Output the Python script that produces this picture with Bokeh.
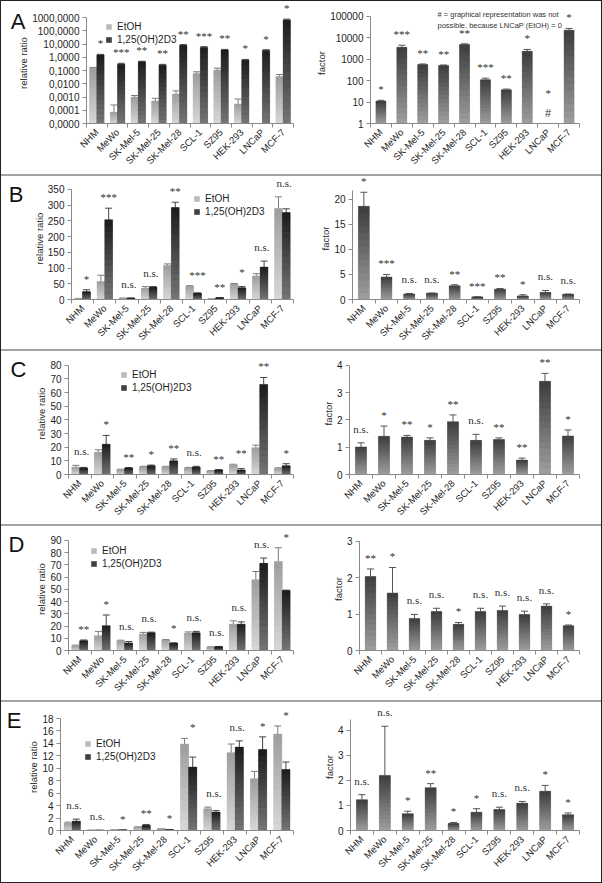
import math
from bokeh.plotting import figure
from bokeh.models import (ColumnDataSource, FixedTicker, Whisker, TeeHead, Legend,
                          LegendItem, Label, LabelSet, Range1d, LinearAxis)
from bokeh.layouts import row, column
from bokeh.embed import file_html
from bokeh.resources import INLINE

NAN = float("nan")
FONT = "Liberation Sans"
AX = "#8a8a8a"
TXT = "#1e1e1e"
# (top colour, bottom colour, mid colour) of the gradient fills
G_ETOH = ((158, 158, 158), (216, 216, 216), "#bababa")
G_D3 = ((28, 28, 28), (118, 118, 118), "#404040")
G_FAC = ((60, 60, 60), (160, 160, 160), "#707070")

# ---------------- data ----------------
cells = ["NHM", "MeWo", "SK-Mel-5", "SK-Mel-25", "SK-Mel-28", "SCL-1",
         "SZ95", "HEK-293", "LNCaP", "MCF-7"]
series_names = ["EtOH", "1,25(OH)2D3"]

# Panel A
a_etoh = [0.15, 7e-5, 0.001, 0.0005, 0.0017, 0.06, 0.11, 0.0003, NAN, 0.035]
a_etoh_err = [0.02, 1.8e-4, 0.0003, 0.0003, 0.0012, 0.02, 0.04, 0.0004, NAN, 0.015]
a_d3 = [1.5, 0.3, 0.45, 0.25, 8.0, 5.5, 3.5, 0.6, 3.3, 650]
a_d3_err = [0.15, 0.05, 0.05, 0.04, 1.0, 0.8, 0.4, 0.08, 0.4, 100]
a_sig = ["*", "***", "**", "**", "**", "***", "**", "*", "*", "*"]
a_fac = [11, 3500, 550, 500, 4800, 110, 37, 2300, NAN, 22000]
a_fac_err = [1, 900, 40, 30, 300, 18, 3, 500, NAN, 4500]
a_fac_sig = ["*", "***", "**", "**", "**", "***", "**", "*", "*", "*"]
a_left_ticks = [1e-05, 0.0001, 0.001, 0.01, 0.1, 1.0, 10.0, 100.0, 1000.0]
a_left_labels = ["0,0000", "0,0001", "0,0010", "0,0100", "0,1000", "1,0000",
                 "10,0000", "100,0000", "1000,0000"]
a_right_ticks = [1.0, 10.0, 100.0, 1000.0, 10000.0, 100000.0]
a_right_labels = ["1", "10", "100", "1000", "10000", "100000"]
a_note = ["# = graphical representation was not", "possible, because LNCaP (EtOH) = 0"]

# Panel B
b_etoh = [3, 57, 4, 36, 108, 42, 2, 49, 75, 289]
b_etoh_err = [0.5, 20, 0.5, 5, 5, 2, 0.3, 2, 7, 37]
b_d3 = [25, 253, 4, 39, 292, 20, 5, 37, 103, 276]
b_d3_err = [6, 37, 0.5, 2, 17, 1, 0.5, 4, 19, 12]
b_sig = ["*", "***", "n.s.", "n.s.", "**", "***", "**", "*", "n.s.", "n.s."]
b_fac = [18.6, 4.5, 1.1, 1.25, 2.75, 0.5, 2.05, 0.7, 1.4, 1.05]
b_fac_err = [2.8, 0.5, 0.1, 0.05, 0.2, 0.05, 0.15, 0.25, 0.4, 0.05]
b_fac_sig = ["*", "***", "n.s.", "n.s.", "**", "***", "**", "*", "n.s.", "n.s."]
b_left_ticks = [0, 50, 100, 150, 200, 250, 300, 350]
b_right_ticks = [0, 5, 10, 15, 20]

# Panel C
c_etoh = [5.5, 16.2, 3.6, 5.5, 5.5, 4.8, 2.6, 7.2, 19.6, 4.5]
c_etoh_err = [1.2, 1.9, 0.3, 0.5, 0.5, 0.4, 0.2, 0.3, 1.9, 0.4]
c_d3 = [4.8, 22.2, 4.8, 6.4, 10.0, 5.5, 3.3, 3.3, 65.9, 6.4]
c_d3_err = [0.4, 6.4, 0.3, 0.5, 1.4, 0.5, 0.3, 1.0, 5.1, 1.5]
c_sig = ["n.s.", "*", "**", "*", "**", "n.s.", "**", "**", "**", "*"]
c_fac = [1.01, 1.4, 1.37, 1.25, 1.93, 1.25, 1.28, 0.53, 3.41, 1.41]
c_fac_err = [0.15, 0.37, 0.06, 0.09, 0.25, 0.22, 0.06, 0.07, 0.29, 0.22]
c_fac_sig = ["n.s.", "*", "**", "*", "**", "n.s.", "**", "**", "**", "*"]
c_left_ticks = [0, 10, 20, 30, 40, 50, 60, 70, 80]
c_right_ticks = [0, 1, 2, 3, 4]

# Panel D
d_etoh = [4.0, 12.1, 8.0, 13.4, 8.6, 14.2, 2.7, 21.5, 57.8, 72.6]
d_etoh_err = [0.4, 3.5, 0.4, 1.4, 0.4, 1.0, 0.3, 2.7, 6.7, 11.3]
d_d3 = [8.0, 20.2, 6.2, 14.5, 5.9, 14.5, 3.0, 21.5, 71.2, 48.9]
d_d3_err = [0.6, 8.8, 1.1, 0.5, 0.4, 1.1, 0.3, 1.9, 4.3, 0.4]
d_sig = ["**", "*", "n.s.", "n.s.", "*", "n.s.", "n.s.", "n.s.", "n.s.", "*"]
d_fac = [2.03, 1.58, 0.88, 1.07, 0.72, 1.07, 1.1, 0.99, 1.22, 0.68]
d_fac_err = [0.21, 0.7, 0.11, 0.09, 0.05, 0.09, 0.12, 0.09, 0.06, 0.02]
d_fac_sig = ["**", "*", "n.s.", "n.s.", "*", "n.s.", "n.s.", "n.s.", "n.s.", "*"]
d_left_ticks = [0, 10, 20, 30, 40, 50, 60, 70, 80, 90]
d_right_ticks = [0, 1, 2, 3]

# Panel E
e_etoh = [1.18, 0.02, 0.1, 0.54, 0.27, 13.9, 3.5, 12.5, 8.33, 15.5]
e_etoh_err = [0.16, 0.0, 0.03, 0.05, 0.03, 0.9, 0.26, 1.4, 1.17, 1.3]
e_d3 = [1.5, 0.01, 0.03, 0.8, 0.05, 10.2, 2.96, 13.4, 13.0, 9.8]
e_d3_err = [0.33, 0.0, 0.0, 0.17, 0.01, 1.6, 0.24, 1.0, 2.05, 1.2]
e_sig = ["n.s.", "n.s.", "*", "**", "*", "*", "n.s.", "n.s.", "*", "*"]
e_fac = [1.23, 2.2, 0.67, 1.71, 0.28, 0.73, 0.84, 1.09, 1.57, 0.63]
e_fac_err = [0.2, 1.96, 0.1, 0.16, 0.04, 0.14, 0.09, 0.07, 0.23, 0.07]
e_fac_sig = ["n.s.", "n.s.", "*", "**", "*", "*", "n.s.", "n.s.", "*", "*"]
e_left_ticks = [0, 2, 4, 6, 8, 10, 12, 14, 16, 18]
e_right_ticks = [0, 1, 2, 3, 4]

MT = 1          # frame top of every figure (frame extended upwards, axis bounded)
NSEG = 14       # gradient slices per bar


# ---------------- helpers ----------------
def make_fig(dims, y0, y1, log=False):
    w, h, ml, mr, mt0, mb = dims
    fh0 = h - mt0 - mb
    extra = mt0 - MT
    if log:
        l0, l1 = math.log10(y0), math.log10(y1)
        top = 10 ** (l1 + (l1 - l0) * extra / fh0)
    else:
        top = y1 + (y1 - y0) * extra / fh0
    p = figure(width=w, height=h, x_range=Range1d(-0.5, len(cells) - 0.5),
               y_range=Range1d(y0, top), y_axis_type="log" if log else "linear",
               output_backend="svg", toolbar_location=None,
               min_border_left=ml, min_border_right=mr,
               min_border_top=MT, min_border_bottom=mb)
    p.outline_line_color = None
    p.xgrid.visible = False
    p.ygrid.visible = False
    p.background_fill_color = "white"
    p.border_fill_color = "white"
    return p


def style(p, yticks, ylabels, ylabel, y0, y1):
    xa = p.xaxis[0]
    xa.ticker = FixedTicker(ticks=list(range(len(cells))),
                            minor_ticks=[k - 0.5 for k in range(len(cells) + 1)])
    xa.major_label_overrides = {k: c for k, c in enumerate(cells)}
    xa.major_label_orientation = math.pi / 4
    xa.major_tick_line_color = None
    xa.major_tick_out = 0
    xa.major_tick_in = 0
    xa.minor_tick_line_color = AX
    xa.minor_tick_in = 0
    xa.minor_tick_out = 4
    xa.axis_line_color = AX
    xa.major_label_text_font = FONT
    xa.major_label_text_font_size = "9.5px"
    xa.major_label_text_color = TXT
    xa.major_label_standoff = 3
    ya = p.yaxis[0]
    ya.bounds = (y0, y1)
    ya.ticker = FixedTicker(ticks=yticks)
    if ylabels is not None:
        ya.major_label_overrides = {t: l for t, l in zip(yticks, ylabels)}
    ya.minor_tick_line_color = None
    ya.major_tick_line_color = AX
    ya.major_tick_in = 0
    ya.major_tick_out = 4
    ya.axis_line_color = AX
    ya.major_label_text_font = FONT
    ya.major_label_text_font_size = "10px"
    ya.major_label_text_color = TXT
    ya.major_label_standoff = 3
    ya.axis_label = ylabel
    ya.axis_label_text_font = FONT
    ya.axis_label_text_font_size = "9.5px"
    ya.axis_label_text_font_style = "normal"
    ya.axis_label_text_color = TXT
    ya.axis_label_standoff = 0


def mix(c_top, c_bot, f):
    return "#%02x%02x%02x" % tuple(int(round(b + (t - b) * f)) for t, b in zip(c_top, c_bot))


def bars(p, xs, tops, errs, bottom, width, grad, err_color, log):
    keep = [k for k in range(len(xs)) if not math.isnan(tops[k])]
    src = ColumnDataSource(dict(x=[xs[k] for k in keep],
                                top=[tops[k] for k in keep],
                                upper=[tops[k] + errs[k] for k in keep]))
    c_top, c_bot, c_mid = grad
    r = p.vbar(x="x", top="top", bottom=bottom, width=width, source=src,
               fill_color=c_mid, line_color=None)
    # gradient: slices of each bar, darker towards the top
    gx, gt, gb, gc = [], [], [], []
    for k in keep:
        t = tops[k]
        for s in range(NSEG):
            f0, f1 = s / NSEG, (s + 1) / NSEG
            if log:
                lb, lt = math.log10(bottom), math.log10(t)
                y_lo, y_hi = 10 ** (lb + (lt - lb) * f0), 10 ** (lb + (lt - lb) * f1)
            else:
                y_lo, y_hi = bottom + (t - bottom) * f0, bottom + (t - bottom) * f1
            gx.append(xs[k])
            gb.append(y_lo)
            gt.append(y_hi)
            gc.append(mix(c_top, c_bot, (f0 + f1) / 2))
    p.vbar(x=gx, top=gt, bottom=gb, width=width, fill_color=gc, line_color=gc,
           line_width=0.4)
    wk = Whisker(source=src, base="x", lower="top", upper="upper", dimension="height",
                 line_color=err_color, line_width=1,
                 upper_head=TeeHead(size=7, line_color=err_color, line_width=1),
                 lower_head=None)
    p.add_layout(wk)
    return r


def sig_labels(p, xs, ys, labels, offs):
    src = ColumnDataSource(dict(x=xs, y=ys, t=labels, o=offs))
    ls = LabelSet(x="x", y="y", text="t", source=src, y_offset="o",
                  text_align="center", text_baseline="bottom",
                  text_font=FONT, text_font_size="11px", text_color="#2e2e2e")
    p.add_layout(ls)


def letter(p, dims, txt, standoff):
    w, h, ml, mr, mt0, mb = dims
    fh = h - MT - mb
    tick = fh - (18 - MT)
    p.extra_y_ranges = {"letter": Range1d(0, fh)}
    ax = LinearAxis(y_range_name="letter", ticker=FixedTicker(ticks=[tick]),
                    major_label_overrides={tick: txt})
    ax.axis_line_color = None
    ax.major_tick_line_color = None
    ax.minor_tick_line_color = None
    ax.major_tick_out = 0
    ax.major_tick_in = 0
    ax.minor_tick_out = 0
    ax.major_label_standoff = standoff
    ax.major_label_text_font = FONT
    ax.major_label_text_font_size = "22px"
    ax.major_label_text_color = "#111111"
    p.add_layout(ax, "left")


def left_panel(txt, dims, etoh, etoh_err, d3, d3_err, sig, y0, y1, yticks, ylabels,
               log, leg_left, leg_row1, letter_standoff):
    p = make_fig(dims, y0, y1, log)
    style(p, yticks, ylabels, "relative ratio", y0, y1)
    n = len(cells)
    r1 = bars(p, [k - 0.175 for k in range(n)], etoh, etoh_err, y0, 0.35, G_ETOH,
              "#7a7a7a", log)
    r2 = bars(p, [k + 0.175 for k in range(n)], d3, d3_err, y0, 0.35, G_D3,
              "#444444", log)
    xs, ys, offs = [], [], []
    for k in range(n):
        cand = [v + e for v, e in ((etoh[k], etoh_err[k]), (d3[k], d3_err[k]))
                if not math.isnan(v)]
        ys.append(max(cand))
        xs.append(k + (0.08 if sig[k] == "n.s." else 0.175))
        offs.append(8 if sig[k] == "n.s." else 5)
    sig_labels(p, xs, ys, sig, offs)
    w, h, ml, mr, mt0, mb = dims
    lh = 27
    leg = Legend(items=[LegendItem(label=series_names[0], renderers=[r1]),
                        LegendItem(label=series_names[1], renderers=[r2])],
                 location=(leg_left - (ml + 1), (h - mb) - (leg_row1 - 6 + lh)),
                 orientation="vertical", glyph_width=7, glyph_height=7,
                 label_height=12, label_standoff=5, spacing=1, padding=0, margin=0,
                 border_line_color=None, background_fill_alpha=0,
                 label_text_font=FONT, label_text_font_size="10px",
                 label_text_color=TXT)
    p.add_layout(leg)
    letter(p, dims, txt, letter_standoff)
    return p


def right_panel(dims, fac, fac_err, sig, y0, y1, yticks, ylabels, log):
    p = make_fig(dims, y0, y1, log)
    style(p, yticks, ylabels, "factor", y0, y1)
    n = len(cells)
    bars(p, list(range(n)), fac, fac_err, y0, 0.48, G_FAC, "#555555", log)
    ys, offs = [], []
    for k in range(n):
        if math.isnan(fac[k]):
            ys.append(y0)
            offs.append(25)
        else:
            ys.append(fac[k] + fac_err[k])
            offs.append(8 if sig[k] == "n.s." else 5)
    sig_labels(p, list(range(n)), ys, sig, offs)
    return p


# ---------------- layout ----------------
W = 300
H = [173, 173, 173, 174, 180]

pA_l = left_panel("A", (W, H[0], 85, 8, 16, 51), a_etoh, a_etoh_err, a_d3, a_d3_err,
                  a_sig, 1e-05, 1000.0, a_left_ticks, a_left_labels, True, 105, 23, -10)
dA_r = (W, H[0], 69, 22, 15, 47)
pA_r = right_panel(dA_r, a_fac, a_fac_err, a_fac_sig, 1.0, 100000.0,
                   a_right_ticks, a_right_labels, True)
nan_idx = [k for k in range(len(cells)) if math.isnan(a_fac[k])]
for k in nan_idx:
    pA_r.add_layout(Label(x=k, y=1.0, y_offset=5, text="#", text_align="center",
                          text_baseline="bottom", text_font=FONT,
                          text_font_size="11px", text_color="#333333"))
for j, line in enumerate(a_note):
    pA_r.add_layout(Label(x=437 - 370, y=(H[0] - 47) - (17 + 11 * j),
                          x_units="screen", y_units="screen", text=line,
                          text_font=FONT, text_font_size="7.5px", text_color="#333333",
                          text_baseline="middle", text_align="left"))

pB_l = left_panel("B", (W, H[1], 70, 8, 13, 48), b_etoh, b_etoh_err, b_d3, b_d3_err,
                  b_sig, 0, 350, b_left_ticks, None, False, 193, 22, 7)
pB_r = right_panel((W, H[1], 51, 22, 14, 48), b_fac, b_fac_err, b_fac_sig, 0, 21.8,
                   b_right_ticks, None, False)

pC_l = left_panel("C", (W, H[2], 67, 8, 14, 47), c_etoh, c_etoh_err, c_d3, c_d3_err,
                  c_sig, 0, 80, c_left_ticks, None, False, 120, 24, 7)
pC_r = right_panel((W, H[2], 48, 22, 14, 47), c_fac, c_fac_err, c_fac_sig, 0, 4,
                   c_right_ticks, None, False)

pD_l = left_panel("D", (W, H[3], 67, 8, 14, 48), d_etoh, d_etoh_err, d_d3, d_d3_err,
                  d_sig, 0, 90, d_left_ticks, None, False, 90, 24, 9)
pD_r = right_panel((W, H[3], 58, 22, 15, 48), d_fac, d_fac_err, d_fac_sig, 0, 3,
                   d_right_ticks, None, False)

pE_l = left_panel("E", (W, H[4], 59, 8, 16, 52), e_etoh, e_etoh_err, e_d3, e_d3_err,
                  e_sig, 0, 18, e_left_ticks, None, False, 84, 39, 4)
pE_r = right_panel((W, H[4], 49, 22, 17, 52), e_fac, e_fac_err, e_fac_sig, 0, 4.43,
                   e_right_ticks, None, False)

pairs = [(pA_l, pA_r), (pB_l, pB_r), (pC_l, pC_r), (pD_l, pD_r), (pE_l, pE_r)]
rows = []
for k, (pl, pr) in enumerate(pairs):
    st = {"border-top": "2px solid #a3a3a3"} if k > 0 else {}
    rows.append(row(pl, pr, styles=st))
layout = column(*rows, styles={"border": "1px solid #222222"})

open("out.html", "w").write(file_html(layout, INLINE))
